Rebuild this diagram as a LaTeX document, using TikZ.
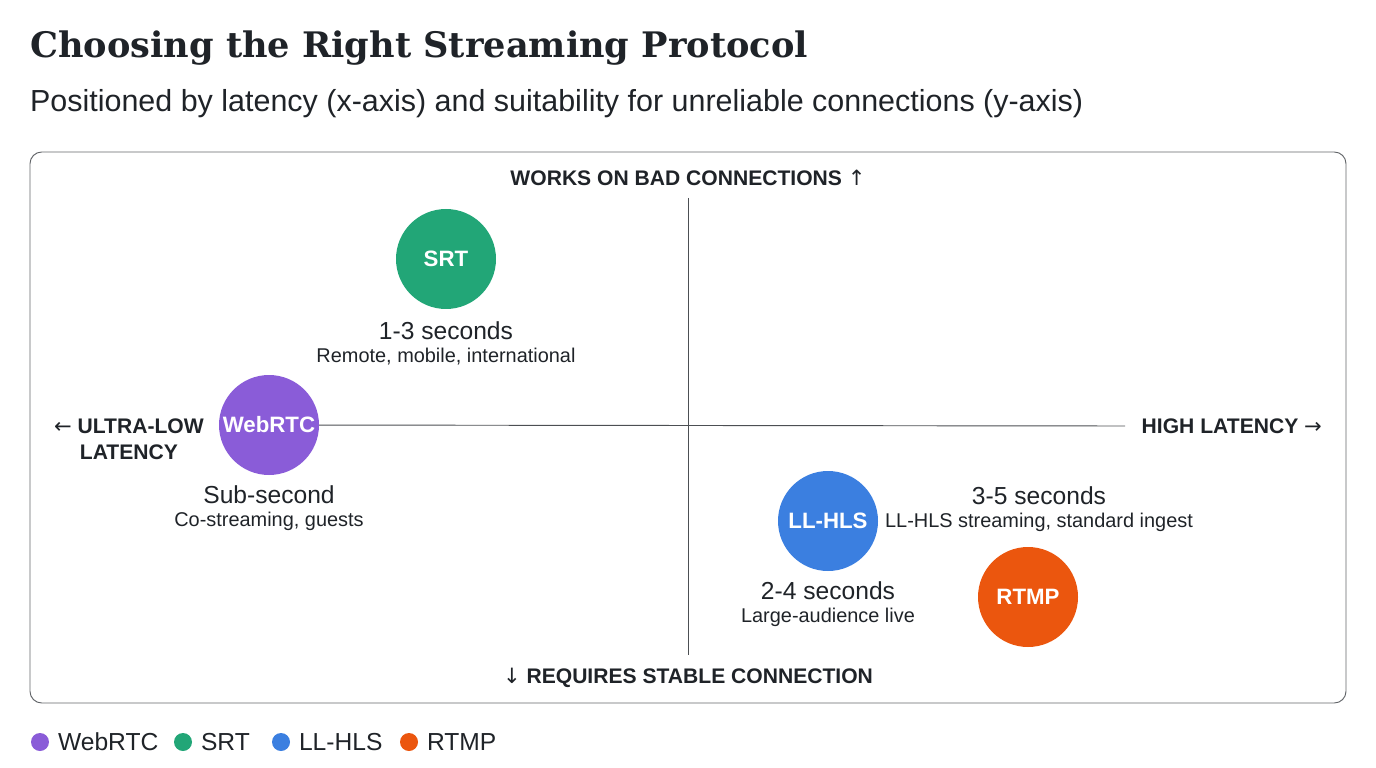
\documentclass[tikz,border=0pt]{standalone}
\usepackage{fontspec}
\setmainfont{Liberation Sans}
\newfontfamily\slabfont{DejaVu Serif}
\newfontfamily\arrowfont{DejaVu Sans}
\usetikzlibrary{positioning}
\definecolor{ink}{HTML}{1F2328}
\definecolor{webrtcc}{HTML}{8A5CD8}
\definecolor{srtc}{HTML}{22A677}
\definecolor{llhlsc}{HTML}{3B7FE0}
\definecolor{rtmpc}{HTML}{EB560E}
\newcommand{\arr}[1]{{\arrowfont\mdseries\symbol{#1}}}
\tikzset{
  proto/.style={circle, minimum size=100*0.03cm, inner sep=0pt, text=white, font=\fontsize{19}{22}\selectfont\bfseries},
  axislabel/.style={text=ink, font=\fontsize{18}{22}\selectfont\bfseries, align=center},
  lat/.style={text=ink, font=\fontsize{21}{24}\selectfont},
  use/.style={text=ink, font=\fontsize{17}{20}\selectfont},
  dot/.style={circle, minimum size=18*0.03cm, inner sep=0pt},
  legend/.style={text=ink, font=\fontsize{21}{24}\selectfont, anchor=west}
}
\begin{document}
\begin{tikzpicture}[x=0.03cm, y=-0.03cm]
\useasboundingbox (0,0) rectangle (1376,768);

% title

\node[anchor=west, text=ink, font=\slabfont\fontsize{30}{34}\selectfont\bfseries] (title) at (26,48) {Choosing the Right Streaming Protocol};
\node[anchor=west, text=ink, font=\fontsize{26}{30}\selectfont] (subtitle) at (26,104) {Positioned by latency (x-axis) and suitability for unreliable connections (y-axis)};

% frame and axes

\draw[ink!70, line width=0.8pt, rounded corners=10pt] (30,152) rectangle (1346,703);
\node[axislabel] (top) at (688,178) {WORKS ON BAD CONNECTIONS \arr{"2191}};
\node[axislabel] (bottom) at (688,678) {\arr{"2193} REQUIRES STABLE CONNECTION};
\node[axislabel, anchor=west] (left) at (50,439) {\arr{"2190} ULTRA-LOW\\LATENCY};
\node[axislabel, anchor=east] (right) at (1326,426) {HIGH LATENCY \arr{"2192}};
\coordinate (vtop) at (688,198);
\coordinate (vbot) at (688,655);
\coordinate (hend) at (1125,426);
\draw[ink!80, line width=0.8pt] (vtop) -- (vbot);

% protocols

\node[proto, fill=srtc] (srt) at (446,259) {SRT};
\node[lat, below=8*0.03cm of srt] (srtlat) {1-3 seconds};
\node[use, below=0pt of srtlat] (srtuse) {Remote, mobile, international};

\node[proto, fill=webrtcc] (webrtc) at (269,425) {WebRTC};
\draw[ink!80, line width=0.8pt] (webrtc) -- (hend);
\node[lat, below=6*0.03cm of webrtc] (webrtclat) {Sub-second};
\node[use, below=0pt of webrtclat] (webrtcuse) {Co-streaming, guests};

\node[proto, fill=llhlsc] (llhls) at (828,521) {LL-HLS};
\node[lat, below=6*0.03cm of llhls] (llhlslat) {2-4 seconds};
\node[use, below=0pt of llhlslat] (llhlsuse) {Large-audience live};

\node[proto, fill=rtmpc] (rtmp) at (1028,597) {RTMP};
\node[lat] (rtmplat) at (1039,496) {3-5 seconds};
\node[use, below=0pt of rtmplat] (rtmpuse) {LL-HLS streaming, standard ingest};

% legend

\node[dot, fill=webrtcc] (d1) at (40,742) {};
\node[legend, right=4pt of d1] (l1) {WebRTC};
\node[dot, fill=srtc] (d2) at (183,742) {};
\node[legend, right=4pt of d2] (l2) {SRT};
\node[dot, fill=llhlsc] (d3) at (281,742) {};
\node[legend, right=4pt of d3] (l3) {LL-HLS};
\node[dot, fill=rtmpc] (d4) at (409,742) {};
\node[legend, right=4pt of d4] (l4) {RTMP};

\end{tikzpicture}
\end{document}
